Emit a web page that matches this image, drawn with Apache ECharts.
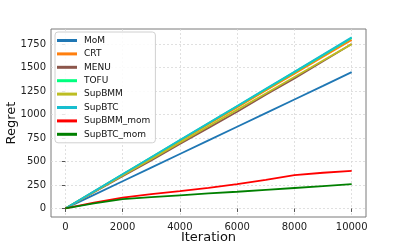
<!DOCTYPE html>
<html><head><meta charset="utf-8">
<script src="https://cdn.jsdelivr.net/npm/echarts@6/dist/echarts.min.js"></script>
<style>html,body{margin:0;padding:0;background:#fff}#c{width:407px;height:244px}</style>
</head><body><div id="c"></div>
<script>
const iterations = [0,1000,2000,3000,4000,5000,6000,7000,8000,9000,10000];
const seriesNames = ['MoM','CRT','MENU','TOFU','SupBMM','SupBTC','SupBMM_mom','SupBTC_mom'];
const MoM = [0,145,290,435,580,725,870,1015,1160,1305,1452];
const CRT = [0,179,358,538,717,897,1076,1256,1435,1615,1795];
const MENU = [0,172,342,512,688,858,1030,1212,1385,1568,1752];
const TOFU = [0,181,363,544,726,907,1089,1270,1452,1633,1815];
const SupBMM = [0,175,350,525,700,875,1050,1225,1400,1575,1750];
const SupBTC = [0,182,364,546,728,910,1092,1274,1456,1638,1822];
const SupBMM_mom = [0,62,115,152,185,220,258,305,355,380,400];
const SupBTC_mom = [0,55,100,120,140,160,178,198,218,238,258];
const xTicks = [0,2000,4000,6000,8000,10000];
const yTicks = [0,250,500,750,1000,1250,1500,1750];
const colors = ['#1f77b4','#ff7f0e','#8c564b','#00ff7f','#bcbd22','#17becf','#ff0000','#008000'];
const values = [MoM,CRT,MENU,TOFU,SupBMM,SupBTC,SupBMM_mom,SupBTC_mom];

const font = 'DejaVu Sans';
const chart = echarts.init(document.getElementById('c'), null, {renderer:'canvas'});
chart.setOption({
  animation:false,
  textStyle:{fontFamily:font},
  grid:{left:51,right:41,top:29,bottom:27,outerBoundsMode:'none',containLabel:false,show:true,borderColor:'#7a7a7a',borderWidth:1,backgroundColor:'transparent'},
  legend:{
    orient:'vertical',left:55,top:32,icon:'rect',itemWidth:20,itemHeight:3,itemGap:4.4,
    data:seriesNames,
    textStyle:{fontFamily:font,fontSize:9,color:'#111',padding:[0,0,0,2]},
    backgroundColor:'rgba(255,255,255,0.85)',borderColor:'#d0d0d0',borderWidth:1,borderRadius:3,padding:[4,5,4,2]
  },
  xAxis:{
    type:'value',min:-500,max:10500,
    name:'Iteration',nameLocation:'middle',nameGap:14,nameMoveOverlap:false,
    nameTextStyle:{fontFamily:font,fontSize:13,color:'#111'},
    axisLine:{show:false},
    axisTick:{show:true,length:3.5,lineStyle:{color:'#555'},customValues:xTicks},
    axisLabel:{fontFamily:font,fontSize:10,color:'#222',margin:5,customValues:xTicks,formatter:v=>String(v)},
    splitLine:{show:true,lineStyle:{color:'#d8d8d8',type:[2,2],width:0.8}}
  },
  yAxis:{
    type:'value',min:-91,max:1911,
    name:'Regret',nameLocation:'middle',nameGap:33,nameRotate:90,nameMoveOverlap:false,
    nameTextStyle:{fontFamily:font,fontSize:13,color:'#111'},
    axisLine:{show:false},
    axisTick:{show:true,length:3.5,lineStyle:{color:'#555'},customValues:yTicks},
    axisLabel:{fontFamily:font,fontSize:10,color:'#222',margin:5,customValues:yTicks,formatter:v=>String(v)},
    splitLine:{show:true,lineStyle:{color:'#d8d8d8',type:[2,2],width:0.8}}
  },
  series: seriesNames.map((n,i)=>({
    name:n,type:'line',showSymbol:false,symbol:'none',
    data: iterations.map((x,j)=>[x,values[i][j]]),
    lineStyle:{width:1.8,color:colors[i]},itemStyle:{color:colors[i]}
  }))
});
</script></body></html>
